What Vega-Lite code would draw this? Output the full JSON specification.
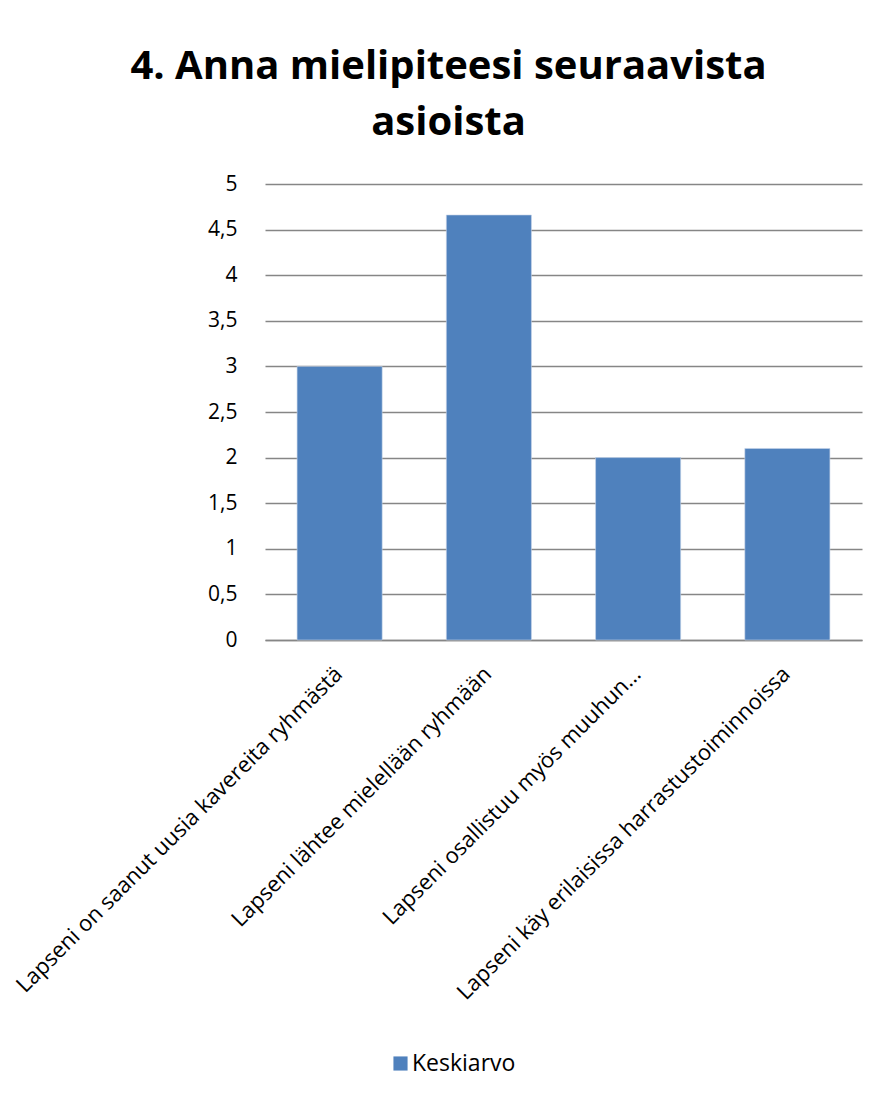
{
  "$schema": "https://vega.github.io/schema/vega-lite/v6.json",
  "width": 597,
  "height": 456,
  "autosize": {"type": "none"},
  "padding": {"left": 265, "top": 184, "right": 17, "bottom": 453},
  "background": "white",
  "title": {
    "text": ["4. Anna mielipiteesi seuraavista", "asioista"],
    "font": "Open Sans",
    "fontSize": 40,
    "fontWeight": "bold",
    "color": "#000000",
    "anchor": "middle",
    "frame": "group",
    "dx": -115,
    "offset": 30,
    "lineHeight": 56
  },
  "data": {
    "values": [
      {"kysymys": "Lapseni on saanut uusia kavereita ryhmästä", "sarja": "Keskiarvo", "arvo": 3.0},
      {"kysymys": "Lapseni lähtee mielellään ryhmään", "sarja": "Keskiarvo", "arvo": 4.66},
      {"kysymys": "Lapseni osallistuu myös muuhun…", "sarja": "Keskiarvo", "arvo": 2.0},
      {"kysymys": "Lapseni käy erilaisissa harrastustoiminnoissa", "sarja": "Keskiarvo", "arvo": 2.1}
    ]
  },
  "mark": {"type": "bar", "stroke": "#c6d4e8", "strokeWidth": 0.6},
  "encoding": {
    "x": {
      "field": "kysymys",
      "type": "nominal",
      "sort": null,
      "title": null,
      "scale": {"paddingInner": 0.43, "paddingOuter": 0.215},
      "axis": {
        "labelAngle": -45,
        "labelAlign": "right",
        "labelBaseline": "top",
        "labelFont": "Open Sans",
        "labelFontSize": 22,
        "labelColor": "#000000",
        "labelPadding": 23,
        "labelOffset": -8,
        "labelLimit": 700,
        "ticks": false,
        "domainColor": "#868686",
        "domainWidth": 1.5
      }
    },
    "y": {
      "field": "arvo",
      "type": "quantitative",
      "title": null,
      "scale": {"domain": [0, 5]},
      "axis": {
        "values": [0, 0.5, 1, 1.5, 2, 2.5, 3, 3.5, 4, 4.5, 5],
        "labelExpr": "replace(format(datum.value, '~g'), '.', ',')",
        "labelFont": "Open Sans",
        "labelFontSize": 21,
        "labelColor": "#000000",
        "labelPadding": 28,
        "ticks": false,
        "domain": false,
        "gridColor": "#868686",
        "gridWidth": 1.5
      }
    },
    "color": {
      "field": "sarja",
      "type": "nominal",
      "scale": {"range": ["#4f81bd"]},
      "legend": {
        "title": null,
        "orient": "none",
        "legendX": 124,
        "legendY": 868,
        "symbolType": "square",
        "symbolSize": 200,
        "symbolStrokeWidth": 0,
        "labelFont": "Open Sans",
        "labelFontSize": 23,
        "labelColor": "#000000",
        "labelOffset": 0
      }
    }
  },
  "config": {
    "view": {"stroke": null}
  }
}
